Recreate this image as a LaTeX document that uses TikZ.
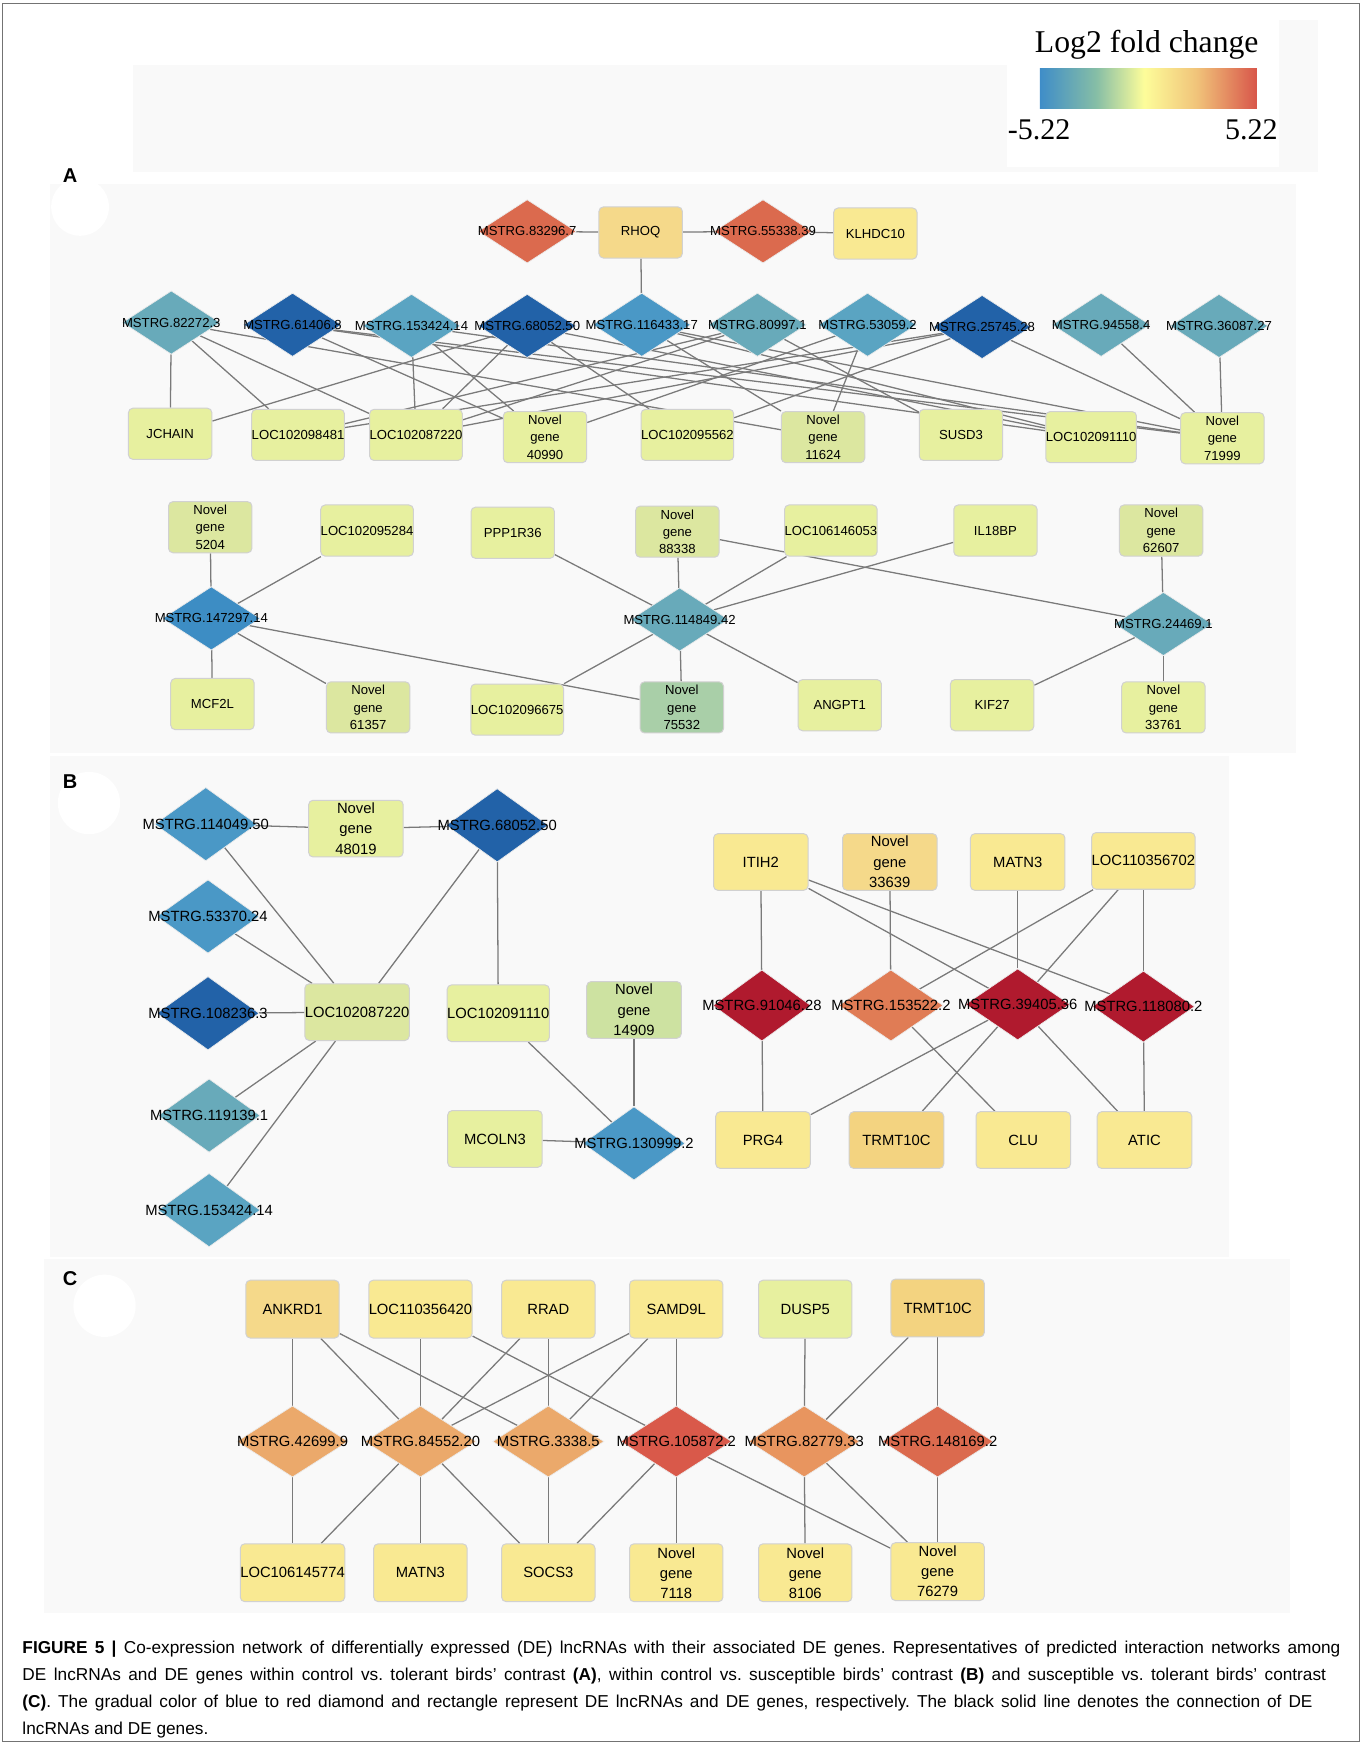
\documentclass[tikz,border=0pt]{standalone}
\usepackage{fontspec}
\setmainfont{Liberation Sans}
\newfontfamily\legfont{Liberation Serif}
\usetikzlibrary{shapes.geometric}
\pgfdeclarelayer{back}
\pgfdeclarelayer{edges}
\pgfsetlayers{back,edges,main}
\frenchspacing
% colours
\definecolor{edgegray}{HTML}{7A7A7A}
\definecolor{bgpanel}{HTML}{F9F9F9}
\definecolor{dkblue}{HTML}{2262A8}
\definecolor{mdblue}{HTML}{4A98C6}
\definecolor{ltblue}{HTML}{5AA4C2}
\definecolor{teal}{HTML}{68AABA}
\definecolor{blue147}{HTML}{3D8DC4}
\definecolor{redor}{HTML}{DB6A4E}
\definecolor{dkred}{HTML}{B01A2E}
\definecolor{or153}{HTML}{E07C55}
\definecolor{orC}{HTML}{EBA96B}
\definecolor{red105}{HTML}{D9594A}
\definecolor{or827}{HTML}{E8955F}
\definecolor{ygreen}{HTML}{E7F09F}
\definecolor{ygreenB}{HTML}{DCE7A0}
\definecolor{green755}{HTML}{A9CFA8}
\definecolor{green149}{HTML}{CDE2A1}
\definecolor{yelorg}{HTML}{F5D98A}
\definecolor{yellow}{HTML}{F9E992}
\definecolor{yelorgB}{HTML}{F3D380}
\definecolor{gA}{HTML}{3F8DC8}
\definecolor{gB}{HTML}{86BEA6}
\definecolor{gC}{HTML}{FDFD9A}
\definecolor{gD}{HTML}{F1C47A}
\definecolor{gE}{HTML}{D8564A}
\pgfdeclarehorizontalshading{lfc}{100bp}{color(0bp)=(gA); color(25bp)=(gA); color(38bp)=(gB); color(49bp)=(gC); color(61bp)=(gD); color(75bp)=(gE); color(100bp)=(gE)}
\tikzset{
  edge/.style={draw=edgegray, line width=1.15pt},
  boxA/.style={rectangle, rounded corners=4pt, draw=black!18, line width=0.9pt, minimum width=75pt, minimum height=46pt, inner sep=0pt, align=center, font=\fontsize{11.8}{15.5}\selectfont},
  boxB/.style={boxA, minimum width=85pt, minimum height=51pt, font=\fontsize{13.3}{18.5}\selectfont},
  boxC/.style={boxA, minimum width=84pt, minimum height=52pt, font=\fontsize{13.3}{18}\selectfont},
  dA/.style={diamond, minimum width=88pt, minimum height=57pt, inner sep=0pt, draw=black!8, line width=0.6pt},
  dB/.style={dA, minimum width=92pt, minimum height=66pt},
  dC/.style={dA, minimum width=100pt, minimum height=64pt},
  labA/.style={font=\fontsize{11.8}{14}\selectfont, inner sep=0pt},
  labB/.style={font=\fontsize{13.3}{16}\selectfont, inner sep=0pt},
  panlab/.style={font=\fontsize{18}{20}\selectfont\bfseries, inner sep=0pt},
  capt/.style={font=\fontsize{15.5}{19}\selectfont, inner sep=0pt, anchor=base west},
}
\begin{document}
\begin{tikzpicture}[x=1pt, y=-1pt]
\useasboundingbox (0,0) rectangle (1225,1568);
\begin{pgfonlayer}{back}
  \fill[white] (0,0) rectangle (1225,1568);
  \fill[bgpanel] (120,58) rectangle (1185,155);
  \fill[bgpanel] (1150,18) rectangle (1185,155);
  \fill[white] (905,18) rectangle (1150,150);
  \fill[bgpanel] (45,165) rectangle (1165,677);
  \fill[white] (72,186) circle (26);
  \fill[bgpanel] (45,680) rectangle (1105,1130);
  \fill[white] (80,722) circle (28);
  \fill[bgpanel] (40,1132) rectangle (1160,1450);
  \fill[white] (94,1174) circle (28);
  \draw[black!55, line width=1pt] (2.5,3) rectangle (1222.5,1565.5);
\end{pgfonlayer}

% ---------- legend ----------
\node[font=\legfont\fontsize{28.5}{30}\selectfont, inner sep=0pt] (legt) at (1031,40) {Log2 fold change};
\node[shade, shading=lfc, minimum width=195pt, minimum height=36pt, inner sep=0pt] (legbar) at (1032.5,79.5) {};
\node[font=\legfont\fontsize{27}{29}\selectfont, inner sep=0pt, anchor=west] (legmin) at (906,117) {-5.22};
\node[font=\legfont\fontsize{27}{29}\selectfont, inner sep=0pt, anchor=east] (legmax) at (1149,117) {5.22};

% ---------- panel labels ----------
\node[panlab] (labA) at (63,158) {A};
\node[panlab] (labB) at (63,703) {B};
\node[panlab] (labC) at (63,1150) {C};

% ================= PANEL A =================
\node[dA, fill=redor, label={[labA]center:MSTRG.83296.7}] (d83) at (474,208) {};
\node[boxA, fill=yelorg] (RHOQ) at (576,209) {RHOQ};
\node[dA, fill=redor, label={[labA]center:MSTRG.55338.39}] (d55) at (686,208) {};
\node[boxA, fill=yellow] (KLHDC) at (787,210) {KLHDC10};

\node[dA, fill=teal, label={[labA]center:MSTRG.82272.3}] (a82) at (154,290) {};
\node[dA, fill=dkblue, label={[labA]center:MSTRG.61406.8}] (a61) at (263,292) {};
\node[dA, fill=ltblue, label={[labA]center:MSTRG.153424.14}] (a153) at (370,293) {};
\node[dA, fill=dkblue, label={[labA]center:MSTRG.68052.50}] (a68) at (474,293) {};
\node[dA, fill=mdblue, label={[labA]center:MSTRG.116433.17}] (a116) at (577,292) {};
\node[dA, fill=teal, label={[labA]center:MSTRG.80997.1}] (a80) at (681,292) {};
\node[dA, fill=ltblue, label={[labA]center:MSTRG.53059.2}] (a53) at (780,292) {};
\node[dA, fill=dkblue, label={[labA]center:MSTRG.25745.28}] (a257) at (883,294) {};
\node[dA, fill=teal, label={[labA]center:MSTRG.94558.4}] (a94) at (990,292) {};
\node[dA, fill=teal, label={[labA]center:MSTRG.36087.27}] (a36) at (1096,293) {};

\node[boxA, fill=ygreen] (JCHAIN) at (153,390) {JCHAIN};
\node[boxA, fill=ygreen] (L98481) at (268,391) {LOC102098481};
\node[boxA, fill=ygreen] (L87220) at (374,391) {LOC102087220};
\node[boxA, fill=ygreen] (N40990) at (490,393) {Novel\\gene\\40990};
\node[boxA, fill=ygreen] (L95562) at (618,391) {LOC102095562};
\node[boxA, fill=ygreenB] (N11624) at (740,393) {Novel\\gene\\11624};
\node[boxA, fill=ygreen] (SUSD3) at (864,391) {SUSD3};
\node[boxA, fill=ygreen] (L91110) at (981,393) {LOC102091110};
\node[boxA, fill=ygreen] (N71999) at (1099,394) {Novel\\gene\\71999};

\node[boxA, fill=ygreenB] (N5204) at (189,474) {Novel\\gene\\5204};
\node[boxA, fill=ygreen] (L95284) at (330,477) {LOC102095284};
\node[boxA, fill=ygreen] (PPP1R36) at (461,479) {PPP1R36};
\node[boxA, fill=ygreenB] (N88338) at (609,478) {Novel\\gene\\88338};
\node[boxA, fill=ygreen] (L146053) at (747,477) {LOC106146053};
\node[boxA, fill=ygreen] (IL18BP) at (895,477) {IL18BP};
\node[boxA, fill=ygreenB] (N62607) at (1044,477) {Novel\\gene\\62607};

\node[dA, fill=blue147, label={[labA]center:MSTRG.147297.14}] (d147) at (190,556) {};
\node[dA, fill=teal, label={[labA]center:MSTRG.114849.42}] (d114849) at (611,557) {};
\node[dA, fill=teal, label={[labA]center:MSTRG.24469.1}] (d24469) at (1046,561) {};

\node[boxA, fill=ygreen] (MCF2L) at (191,633) {MCF2L};
\node[boxA, fill=ygreenB] (N61357) at (331,636) {Novel\\gene\\61357};
\node[boxA, fill=ygreen] (L96675) at (465,638) {LOC102096675};
\node[boxA, fill=green755] (N75532) at (613,636) {Novel\\gene\\75532};
\node[boxA, fill=ygreen] (ANGPT1) at (755,634) {ANGPT1};
\node[boxA, fill=ygreen] (KIF27) at (892,634) {KIF27};
\node[boxA, fill=ygreen] (N33761) at (1046,636) {Novel\\gene\\33761};

% ================= PANEL B =================
\node[dB, fill=mdblue, label={[labB]center:MSTRG.114049.50}] (b114) at (185,741) {};
\node[boxB, fill=ygreen] (N48019) at (320,745) {Novel\\gene\\48019};
\node[dB, fill=dkblue, label={[labB]center:MSTRG.68052.50}] (b68) at (447,742) {};
\node[dB, fill=mdblue, label={[labB]center:MSTRG.53370.24}] (b533) at (187,824) {};
\node[dB, fill=dkblue, label={[labB]center:MSTRG.108236.3}] (b108) at (187,911) {};
\node[boxB, fill=ygreenB] (BL87220) at (321,910) {LOC102087220};
\node[boxB, fill=ygreen] (BL91110) at (448,911) {LOC102091110};
\node[boxB, fill=green149] (N14909) at (570,908) {Novel\\gene\\14909};
\node[dB, fill=teal, label={[labB]center:MSTRG.119139.1}] (b119) at (188,1003) {};
\node[boxB, fill=ygreen] (MCOLN3) at (445,1024) {MCOLN3};
\node[dB, fill=mdblue, label={[labB]center:MSTRG.130999.2}] (b130) at (570,1028) {};
\node[dB, fill=ltblue, label={[labB]center:MSTRG.153424.14}] (b153) at (188,1088) {};

\node[boxB, fill=yellow] (ITIH2) at (684,775) {ITIH2};
\node[boxB, fill=yelorg] (N33639) at (800,775) {Novel\\gene\\33639};
\node[boxB, fill=yellow] (BMATN3) at (915,775) {MATN3};
\node[boxB, fill=yellow] (L356702) at (1028,774) {LOC110356702};
\node[dB, fill=dkred, minimum width=88pt, minimum height=64pt, label={[labB]center:MSTRG.91046.28}] (b91) at (685,904) {};
\node[dB, fill=or153, minimum width=94pt, minimum height=64pt, label={[labB]center:MSTRG.153522.2}] (b1535) at (801,904) {};
\node[dB, fill=dkred, minimum width=94pt, minimum height=64pt, label={[labB]center:MSTRG.39405.36}] (b394) at (915,903) {};
\node[dB, fill=dkred, minimum width=92pt, minimum height=64pt, label={[labB]center:MSTRG.118080.2}] (b118) at (1028,905) {};
\node[boxB, fill=yellow] (PRG4) at (686,1025) {PRG4};
\node[boxB, fill=yelorgB] (BTRMT) at (806,1025) {TRMT10C};
\node[boxB, fill=yellow] (CLU) at (920,1025) {CLU};
\node[boxB, fill=yellow] (ATIC) at (1029,1025) {ATIC};

% ================= PANEL C =================
\node[boxC, fill=yelorg] (ANKRD1) at (263,1177) {ANKRD1};
\node[boxC, fill=yellow] (L356420) at (378,1177) {LOC110356420};
\node[boxC, fill=yellow] (RRAD) at (493,1177) {RRAD};
\node[boxC, fill=yellow] (SAMD9L) at (608,1177) {SAMD9L};
\node[boxC, fill=ygreen] (DUSP5) at (724,1177) {DUSP5};
\node[boxC, fill=yelorgB] (CTRMT) at (843,1176) {TRMT10C};

\node[dC, fill=orC, label={[labB]center:MSTRG.42699.9}] (c426) at (263,1296) {};
\node[dC, fill=orC, label={[labB]center:MSTRG.84552.20}] (c845) at (378,1296) {};
\node[dC, fill=orC, label={[labB]center:MSTRG.3338.5}] (c333) at (493,1296) {};
\node[dC, fill=red105, label={[labB]center:MSTRG.105872.2}] (c105) at (608,1296) {};
\node[dC, fill=or827, label={[labB]center:MSTRG.82779.33}] (c827) at (723,1296) {};
\node[dC, fill=redor, label={[labB]center:MSTRG.148169.2}] (c148) at (843,1296) {};

\node[boxC, fill=yellow] (L145774) at (263,1414) {LOC106145774};
\node[boxC, fill=yellow] (CMATN3) at (378,1414) {MATN3};
\node[boxC, fill=yellow] (SOCS3) at (493,1414) {SOCS3};
\node[boxC, fill=yellow] (N7118) at (608,1414) {Novel\\gene\\7118};
\node[boxC, fill=yellow] (N8106) at (724,1414) {Novel\\gene\\8106};
\node[boxC, fill=yellow] (N76279) at (843,1413) {Novel\\gene\\76279};

% ================= EDGES =================
\begin{pgfonlayer}{edges}
  % A top
  \draw[edge] (d83) -- (RHOQ);
  \draw[edge] (RHOQ) -- (d55);
  \draw[edge] (d55) -- (KLHDC);
  \draw[edge] (RHOQ) -- (a116);
  \draw[edge] (a82) -- (JCHAIN);
  \draw[edge] (a82) -- (L98481);
  \draw[edge] (a82) -- (L87220);
  \draw[edge] (a82) -- (N11624);
  \draw[edge] (a61) -- (N40990);
  \draw[edge] (a61) -- (L91110);
  \draw[edge] (a61) -- (N71999);
  \draw[edge] (a153) -- (L87220);
  \draw[edge] (a153) -- (N40990);
  \draw[edge] (a153) -- (N71999);
  \draw[edge] (a68) -- (JCHAIN);
  \draw[edge] (a68) -- (L87220);
  \draw[edge] (a68) -- (L91110);
  \draw[edge] (a68) -- (L95562);
  \draw[edge] (a116) -- (N11624);
  \draw[edge] (a116) -- (L91110);
  \draw[edge] (a116) -- (N71999);
  \draw[edge] (a80) -- (L98481);
  \draw[edge] (a80) -- (L87220);
  \draw[edge] (a80) -- (SUSD3);
  \draw[edge] (a53) -- (N11624);
  \draw[edge] (a53) -- (N40990);
  \draw[edge] (a257) -- (L95562);
  \draw[edge] (a257) -- (L87220);
  \draw[edge] (a257) -- (L98481);
  \draw[edge] (a257) -- (N71999);
  \draw[edge] (a94) -- (N71999);
  \draw[edge] (a36) -- (N71999);
  % A bottom
  \draw[edge] (d147) -- (N5204);
  \draw[edge] (d147) -- (L95284);
  \draw[edge] (d147) -- (MCF2L);
  \draw[edge] (d147) -- (N61357);
  \draw[edge] (d147) -- (N75532);
  \draw[edge] (d114849) -- (PPP1R36);
  \draw[edge] (d114849) -- (N88338);
  \draw[edge] (d114849) -- (L146053);
  \draw[edge] (d114849) -- (IL18BP);
  \draw[edge] (d114849) -- (L96675);
  \draw[edge] (d114849) -- (N75532);
  \draw[edge] (d114849) -- (ANGPT1);
  \draw[edge] (d24469) -- (N88338);
  \draw[edge] (d24469) -- (N62607);
  \draw[edge] (d24469) -- (KIF27);
  \draw[edge] (d24469) -- (N33761);
  % B left
  \draw[edge] (b114) -- (N48019);
  \draw[edge] (N48019) -- (b68);
  \draw[edge] (b114) -- (BL87220);
  \draw[edge] (b533) -- (BL87220);
  \draw[edge] (b108) -- (BL87220);
  \draw[edge] (b119) -- (BL87220);
  \draw[edge] (b153) -- (BL87220);
  \draw[edge] (b68) -- (BL87220);
  \draw[edge] (b68) -- (BL91110);
  \draw[edge] (BL91110) -- (b130);
  \draw[edge] (N14909) -- (b130);
  \draw[edge] (MCOLN3) -- (b130);
  % B right
  \draw[edge] (ITIH2) -- (b91);
  \draw[edge] (ITIH2) -- (b394);
  \draw[edge] (ITIH2) -- (b118);
  \draw[edge] (N33639) -- (b1535);
  \draw[edge] (BMATN3) -- (b394);
  \draw[edge] (L356702) -- (b1535);
  \draw[edge] (L356702) -- (b394);
  \draw[edge] (L356702) -- (b118);
  \draw[edge] (b91) -- (PRG4);
  \draw[edge] (b394) -- (PRG4);
  \draw[edge] (b394) -- (BTRMT);
  \draw[edge] (b1535) -- (CLU);
  \draw[edge] (b394) -- (ATIC);
  \draw[edge] (b118) -- (ATIC);
  % C
  \draw[edge] (ANKRD1) -- (c426);
  \draw[edge] (ANKRD1) -- (c845);
  \draw[edge] (ANKRD1) -- (c333);
  \draw[edge] (L356420) -- (c845);
  \draw[edge] (L356420) -- (c105);
  \draw[edge] (RRAD) -- (c845);
  \draw[edge] (RRAD) -- (c333);
  \draw[edge] (SAMD9L) -- (c845);
  \draw[edge] (SAMD9L) -- (c333);
  \draw[edge] (SAMD9L) -- (c105);
  \draw[edge] (DUSP5) -- (c827);
  \draw[edge] (CTRMT) -- (c827);
  \draw[edge] (CTRMT) -- (c148);
  \draw[edge] (c426) -- (L145774);
  \draw[edge] (c845) -- (L145774);
  \draw[edge] (c845) -- (CMATN3);
  \draw[edge] (c845) -- (SOCS3);
  \draw[edge] (c333) -- (SOCS3);
  \draw[edge] (c105) -- (SOCS3);
  \draw[edge] (c105) -- (N7118);
  \draw[edge] (c105) -- (N76279);
  \draw[edge] (c827) -- (N8106);
  \draw[edge] (c827) -- (N76279);
  \draw[edge] (c148) -- (N76279);
\end{pgfonlayer}

% ---------- caption ----------
\node[capt] (cap1) at (20,1487) {\makebox[1185pt][s]{\textbf{FIGURE 5 |} Co-expression network of differentially expressed (DE) lncRNAs with their associated DE genes. Representatives of predicted interaction networks among}};
\node[capt] (cap2) at (20,1511) {\makebox[1172pt][s]{DE lncRNAs and DE genes within control vs. tolerant birds’ contrast \textbf{(A)}, within control vs. susceptible birds’ contrast \textbf{(B)} and susceptible vs. tolerant birds’ contrast}};
\node[capt] (cap3) at (20,1535) {\makebox[1160pt][s]{\textbf{(C)}. The gradual color of blue to red diamond and rectangle represent DE lncRNAs and DE genes, respectively. The black solid line denotes the connection of DE}};
\node[capt] (cap4) at (20,1559) {lncRNAs and DE genes.};
\end{tikzpicture}
\end{document}
